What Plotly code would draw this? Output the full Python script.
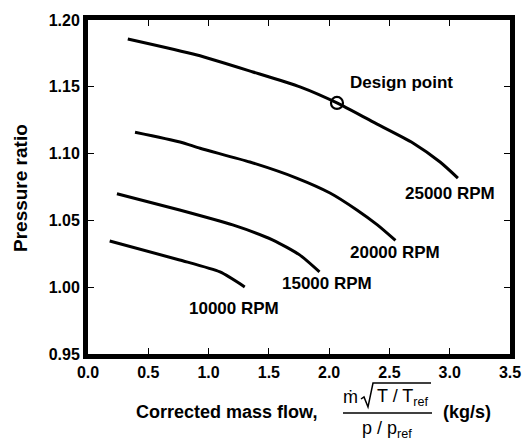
import plotly.graph_objects as go

# Data
flow_25000 = [0.33, 0.904, 1.368, 1.758, 2.065, 2.363, 2.695, 2.92, 3.068]
pr_25000 = [1.1858, 1.1738, 1.1611, 1.1499, 1.1379, 1.1237, 1.108, 1.0937, 1.0817]

flow_20000 = [0.39, 0.763, 0.93, 1.343, 1.73, 2.007, 2.23, 2.40, 2.55]
pr_20000 = [1.116, 1.1087, 1.104, 1.0937, 1.0817, 1.0705, 1.0578, 1.0466, 1.035]

flow_15000 = [0.24, 0.76, 1.20, 1.534, 1.758, 1.92]
pr_15000 = [1.070, 1.0578, 1.0466, 1.0353, 1.024, 1.0114]

flow_10000 = [0.18, 0.76, 1.095, 1.30]
pr_10000 = [1.0346, 1.0204, 1.0114, 1.0002]

design_flow = [2.065]
design_pr = [1.1379]

speed_labels = ["25000 RPM", "20000 RPM", "15000 RPM", "10000 RPM"]
label_x = [3.0, 2.55, 1.98, 1.21]
label_y = [1.070, 1.026, 1.003, 0.984]

x_ticks = [0.0, 0.5, 1.0, 1.5, 2.0, 2.5, 3.0, 3.5]
y_ticks = [0.95, 1.00, 1.05, 1.10, 1.15, 1.20]

FONT = "Liberation Sans, Arial, sans-serif"

fig = go.Figure()
for xs, ys in [(flow_25000, pr_25000), (flow_20000, pr_20000),
               (flow_15000, pr_15000), (flow_10000, pr_10000)]:
    fig.add_trace(go.Scatter(x=xs, y=ys, mode="lines",
                             line=dict(color="black", width=3, shape="spline", smoothing=0.6),
                             showlegend=False, hoverinfo="skip"))

fig.add_trace(go.Scatter(x=design_flow, y=design_pr, mode="markers",
                         marker=dict(symbol="circle-open", size=12, color="black",
                                     line=dict(width=2.2, color="black")),
                         showlegend=False))

for t, lx, ly in zip(speed_labels, label_x, label_y):
    fig.add_annotation(x=lx, y=ly, text="<b>%s</b>" % t, showarrow=False,
                       xanchor="center", yanchor="middle",
                       font=dict(family=FONT, size=17, color="black"))
fig.add_annotation(x=2.6, y=1.153, text="<b>Design point</b>", showarrow=False,
                   xanchor="center", yanchor="middle",
                   font=dict(family=FONT, size=17, color="black"))

# Plot area in window pixels: x 88..510, y 20..354
def px(xp):
    return (xp - 88) / 422.0

def py(yp):
    return (354 - yp) / 334.0

def note(x, y, text, size=18, angle=0):
    fig.add_annotation(xref="paper", yref="paper", x=px(x), y=py(y), text=text,
                       showarrow=False, xanchor="center", yanchor="middle",
                       textangle=angle,
                       font=dict(family=FONT, size=size, color="black"))

note(20, 188, "<b>Pressure ratio</b>", size=19, angle=-90)
note(226, 412, "<b>Corrected mass flow,</b>", size=18)
note(350, 397, "ṁ", size=18)
note(403, 397, "T / T<sub>ref</sub>", size=18)
note(387, 429, "p / p<sub>ref</sub>", size=18)
note(467, 412, "<b>(kg/s)</b>", size=18)

fig.add_shape(type="line", xref="paper", yref="paper",
              x0=px(343), x1=px(432), y0=py(413), y1=py(413),
              line=dict(color="black", width=1.5))
rad = [(361, 399), (364, 397), (368, 407), (373, 383), (431, 383)]
path = "M " + " L ".join("%.5f,%.5f" % (px(a), py(b)) for a, b in rad)
fig.add_shape(type="path", xref="paper", yref="paper", path=path,
              line=dict(color="black", width=1.5))

fig.update_layout(
    width=532, height=441,
    margin=dict(l=88, r=22, t=20, b=87),
    paper_bgcolor="white", plot_bgcolor="white",
    font=dict(family=FONT, color="black"),
    xaxis=dict(range=[0, 3.5], tickvals=x_ticks,
               ticktext=["<b>%.1f</b>" % v for v in x_ticks],
               ticks="inside", ticklen=6, tickwidth=1, tickcolor="black",
               showline=True, linewidth=5, linecolor="black", mirror="ticks",
               showgrid=False, zeroline=False,
               tickfont=dict(family=FONT, size=16, color="black")),
    yaxis=dict(range=[0.95, 1.20], tickvals=y_ticks,
               ticktext=["<b>%.2f</b>" % v for v in y_ticks],
               ticks="inside", ticklen=6, tickwidth=1, tickcolor="black",
               showline=True, linewidth=5, linecolor="black", mirror="ticks",
               showgrid=False, zeroline=False,
               tickfont=dict(family=FONT, size=16, color="black")),
)

fig.write_html("out.html", config={"displayModeBar": False},
               post_script="document.body.style.margin='0';")
